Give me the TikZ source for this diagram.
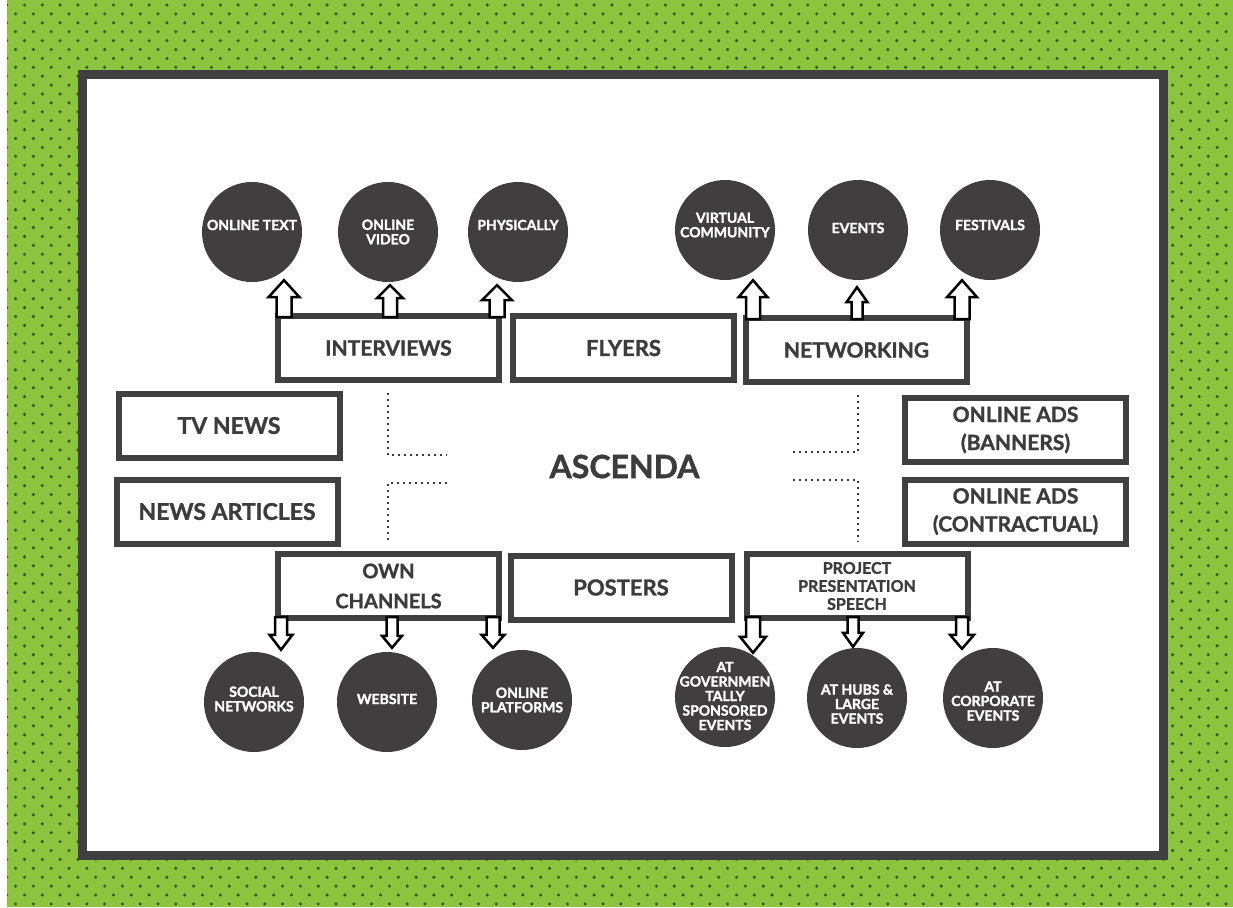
\documentclass[tikz,border=0pt]{standalone}
\usepackage{fontspec}
\setmainfont{Lato}[BoldFeatures={FakeBold=1.3}]
\newfontfamily\discfont{Lato}[BoldFeatures={FakeBold=1.8}]
\usetikzlibrary{calc}
\definecolor{bggreen}{RGB}{141,196,62}
\definecolor{dotgreen}{RGB}{52,86,30}
\definecolor{framegray}{RGB}{64,64,64}
\definecolor{ink}{RGB}{60,60,60}
\definecolor{discgray}{RGB}{64,62,63}
\tikzset{
  box/.style={draw=framegray, line width=6pt, fill=white, minimum width=221pt, minimum height=64pt,
    inner sep=0pt, text=ink, align=center},
  disc/.style={circle, fill=discgray, minimum size=100pt, inner sep=0pt},
  disctext/.style={text=white, font=\discfont\bfseries\fontsize{14}{14.5}\selectfont, align=center, inner sep=0pt},
  blockarrow/.style={draw=black, line width=2.5pt, fill=white, line join=miter},
  guide/.style={draw=ink, line width=2pt, dash pattern=on 2pt off 4pt}
}
% up arrow: #1 x, #2 box, #3 circle, #4 gap, #5 head half width, #6 shaft half width, #7 head height
\newcommand\uparr[7]{%
  \path[blockarrow] let \p1=(#2.north), \p2=(#3.south) in
    ({#1pt-#6pt},{\y1-4pt}) -- ({#1pt-#6pt},{\y2-(#4pt)-(#7pt)}) -- ({#1pt-#5pt},{\y2-(#4pt)-(#7pt)})
    -- ({#1pt},{\y2-(#4pt)}) -- ({#1pt+#5pt},{\y2-(#4pt)-(#7pt)}) -- ({#1pt+#6pt},{\y2-(#4pt)-(#7pt)})
    -- ({#1pt+#6pt},{\y1-4pt}) -- cycle;}
\newcommand\dnarr[7]{%
  \path[blockarrow] let \p1=(#2.south), \p2=(#3.north) in
    ({#1pt-#6pt},{\y1+4pt}) -- ({#1pt-#6pt},{\y2+(#4pt)+(#7pt)}) -- ({#1pt-#5pt},{\y2+(#4pt)+(#7pt)})
    -- ({#1pt},{\y2+(#4pt)}) -- ({#1pt+#5pt},{\y2+(#4pt)+(#7pt)}) -- ({#1pt+#6pt},{\y2+(#4pt)+(#7pt)})
    -- ({#1pt+#6pt},{\y1+4pt}) -- cycle;}
\begin{document}
\begin{tikzpicture}[x=1pt, y=-1pt]
\useasboundingbox (0,0) rectangle (1233,907);
% background
\fill[bggreen] (0,0) rectangle (1233,907);
\foreach \r in {0,...,102} {
  \fill[dotgreen] \foreach \k in {0,...,70} {
    ({6.7-8.9*mod(\r,2)+17.8*\k},{5+8.9*\r}) circle (1.7pt) };
}
\fill[white] (0,0) rectangle (7,907);
% frame
\draw[framegray, line width=9pt, fill=white] (82.5,74.5) rectangle (1163.5,855.5);

% circles top
\node[disc] (ot) at (252,232) {};
\node[disc] (ov) at (388,232) {};
\node[disc] (ph) at (518,232) {};
\node[disc] (vc) at (725,230) {};
\node[disc] (ev) at (858,230) {};
\node[disc] (fe) at (990,230) {};
% circles bottom
\node[disc] (sn) at (254,702) {};
\node[disc] (ws) at (387,702) {};
\node[disc] (op) at (522,700) {};
\node[disc] (gv) at (725,697) {};
\node[disc] (hb) at (857,698) {};
\node[disc] (co) at (993,698) {};

% circle texts
\node[disctext] (otT) at ([yshift=7pt]ot.center) {ONLINE TEXT};
\node[disctext] (ovT) at ([yshift=0pt]ov.center) {ONLINE\\VIDEO};
\node[disctext] (phT) at ([yshift=7pt]ph.center) {PHYSICALLY};
\node[disctext] (vcT) at ([yshift=5pt]vc.center) {VIRTUAL\\COMMUNITY};
\node[disctext] (evT) at ([yshift=2pt]ev.center) {EVENTS};
\node[disctext] (feT) at ([yshift=5pt]fe.center) {FESTIVALS};
\node[disctext] (snT) at ([yshift=3pt]sn.center) {SOCIAL\\NETWORKS};
\node[disctext] (wsT) at ([yshift=3pt]ws.center) {WEBSITE};
\node[disctext] (opT) at ([yshift=0pt]op.center) {ONLINE\\PLATFORMS};
\node[disctext] (gvT) at ([yshift=1pt]gv.center) {AT\\GOVERNMEN\\TALLY\\SPONSORED\\EVENTS};
\node[disctext] (hbT) at ([yshift=-6pt]hb.center) {AT HUBS \&\\LARGE\\EVENTS};
\node[disctext] (coT) at ([yshift=-3pt]co.center) {AT\\CORPORATE\\EVENTS};

% boxes
\node[box, font=\bfseries\fontsize{21}{28}\selectfont] (intv) at (388.5,348) {INTERVIEWS};
\node[box, font=\bfseries\fontsize{22}{28}\selectfont] (fly) at (623.5,348) {FLYERS};
\node[box, font=\bfseries\fontsize{21}{28}\selectfont] (net) at (856.5,350) {NETWORKING};
\node[box, font=\bfseries\fontsize{23}{28}\selectfont] (tv) at (229,425.5) {TV NEWS};
\node[box, font=\bfseries\fontsize{23}{28}\selectfont] (na) at (227,511.5) {NEWS ARTICLES};
\node[box, font=\bfseries\fontsize{21}{28}\selectfont] (oab) at (1015.5,430) {ONLINE ADS\\(BANNERS)};
\node[box, font=\bfseries\fontsize{21}{28}\selectfont] (oac) at (1015.5,511.5) {ONLINE ADS\\(CONTRACTUAL)};
\node[box, font=\bfseries\fontsize{20}{30}\selectfont] (own) at (388.5,586) {OWN\\CHANNELS};
\node[box, font=\bfseries\fontsize{22}{28}\selectfont] (pos) at (621,587.5) {POSTERS};
\node[box, font=\bfseries\fontsize{16}{18}\selectfont] (pps) at (857,586) {PROJECT\\PRESENTATION\\SPEECH};

% arrows (box -> circle)
\uparr{284}{intv}{ot}{-2}{15.5}{7.5}{17}
\uparr{390}{intv}{ov}{3}{13}{7}{13}
\uparr{497}{intv}{ph}{3}{15}{7.5}{15}
\uparr{753}{net}{vc}{0}{14.5}{7}{17}
\uparr{857}{net}{ev}{7}{10.5}{5.5}{15}
\uparr{962}{net}{fe}{0}{15}{7.5}{17}
\dnarr{281}{own}{sn}{2}{11.5}{6}{15}
\dnarr{392}{own}{ws}{4}{10}{5.5}{12}
\dnarr{493}{own}{op}{2}{11.5}{6.5}{13}
\dnarr{753}{pps}{gv}{-6}{13}{7}{16}
\dnarr{853}{pps}{hb}{1}{10}{5.5}{14}
\dnarr{962}{pps}{co}{-1}{12}{6}{14}

% centre
\node[text=ink, font=\bfseries\fontsize{32}{36}\selectfont, inner sep=0pt] (asc) at (624.5,466.5) {ASCENDA};

% dotted guides
\draw[guide] (388,393) -- (388,455) -- (447,455);
\draw[guide] (447,483) -- (388,483) -- (388,542);
\draw[guide] (793,452) -- (858,452) -- (858,395);
\draw[guide] (793,480) -- (858,480) -- (858,542);
\end{tikzpicture}
\end{document}
